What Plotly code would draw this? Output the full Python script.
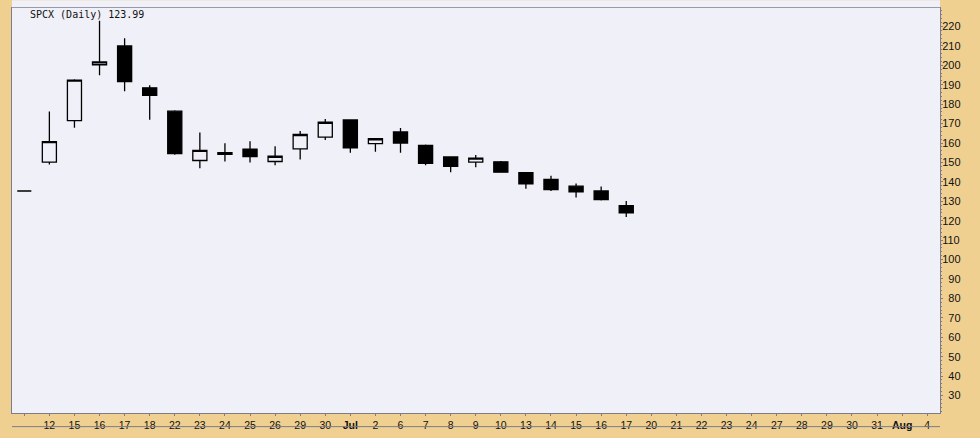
import plotly.graph_objects as go

# ---- data ----
tick_labels = ["", "12", "15", "16", "17", "18", "22", "23", "24", "25", "26", "29", "30",
               "<b>Jul</b>", "2", "6", "7", "8", "9", "10", "13", "14", "15", "16", "17",
               "20", "21", "22", "23", "24", "27", "28", "29", "30", "31", "<b>Aug</b>", "4"]

opens  = [135.3, 150.2, 171.5, 200.3, 210.0, 188.4, 176.4, 151.0, 155.0, 156.8, 150.5, 157.0,
          163.0, 171.9, 159.7, 165.7, 158.8, 152.8, 150.2, 150.3, 144.8, 141.3, 137.8, 135.3, 127.8]
highs  = [135.3, 176.2, 192.8, 223.0, 214.0, 189.8, 176.9, 165.4, 159.9, 160.9, 158.3, 166.2,
          172.4, 172.0, 162.3, 167.7, 159.3, 152.9, 153.8, 150.8, 144.9, 143.2, 139.1, 137.6, 130.1]
lows   = [135.3, 149.0, 167.9, 194.9, 186.6, 172.0, 154.0, 147.0, 150.5, 150.0, 148.5, 151.5,
          161.5, 155.0, 155.5, 155.0, 148.5, 145.0, 147.5, 144.9, 136.4, 135.3, 131.9, 130.4, 121.9]
closes = [135.3, 160.7, 192.4, 201.8, 191.6, 184.6, 154.5, 156.2, 154.2, 153.0, 153.2, 164.4,
          170.7, 157.5, 162.2, 160.0, 149.5, 148.0, 152.2, 145.0, 139.0, 136.0, 134.9, 130.9, 123.99]

y_ticks = list(range(30, 221, 10))

# ---- styling ----
BG = "#F0F0F8"
BEIGE = "#F0D090"
FRAME = "#7C7C8C"

x_idx = list(range(len(opens)))

fig = go.Figure()
fig.add_trace(go.Candlestick(
    x=x_idx, open=opens, high=highs, low=lows, close=closes,
    increasing=dict(line=dict(color="black", width=1.3), fillcolor=BG),
    decreasing=dict(line=dict(color="black", width=1.3), fillcolor="black"),
    whiskerwidth=0, hoverinfo="skip", showlegend=False,
))

fig.update_layout(
    width=980, height=438,
    margin=dict(l=12, r=40, t=7, b=15),
    paper_bgcolor=BEIGE, plot_bgcolor=BG,
    boxgap=0.22, boxgroupgap=0.28,
    showlegend=False,
    xaxis=dict(
        range=[-0.49, 36.51], tickmode="array",
        tickvals=list(range(len(tick_labels))), ticktext=tick_labels,
        ticks="outside", ticklen=2, tickcolor=FRAME,
        showgrid=False, zeroline=False,
        showline=True, linecolor=FRAME, linewidth=1, mirror=True,
        tickfont=dict(family="Liberation Sans", size=10.5, color="#111111"),
        rangeslider=dict(visible=False), fixedrange=True,
    ),
    yaxis=dict(
        side="right", range=[21.0, 229.52], tickmode="array",
        tickvals=y_ticks,
        ticktext=[("\u2007" + str(v)) if v < 100 else str(v) for v in y_ticks],
        ticks="outside", ticklen=2, tickcolor=FRAME, ticklabelstandoff=-3,
        minor=dict(dtick=2, ticklen=1, ticks="outside", tickcolor=FRAME, showgrid=False),
        showgrid=False, zeroline=False,
        showline=True, linecolor=FRAME, linewidth=1, mirror=True,
        tickfont=dict(family="Liberation Sans", size=11, color="#111111"),
        fixedrange=True,
    ),
    shapes=[
        dict(type="rect", xref="paper", yref="paper", x0=0, x1=1, y0=1 + 0.8 / 416, y1=1 + 8 / 416,
             fillcolor=BG, line=dict(width=0), layer="above"),
        dict(type="line", xref="paper", yref="paper", x0=0, x1=1, y0=-14 / 416, y1=-14 / 416,
             line=dict(color=FRAME, width=1)),
    ],
    annotations=[
        dict(xref="paper", yref="paper", x=16 / 928, y=1 - 7 / 416, xanchor="left", yanchor="middle",
             text=f"SPCX (Daily) {closes[-1]:.2f}", showarrow=False,
             font=dict(family="DejaVu Sans Mono", size=10, color="#111111")),
    ],
)

fig.write_html("out.html", config={"displayModeBar": False},
               post_script="document.body.style.margin='0';document.body.style.overflow='hidden';")
